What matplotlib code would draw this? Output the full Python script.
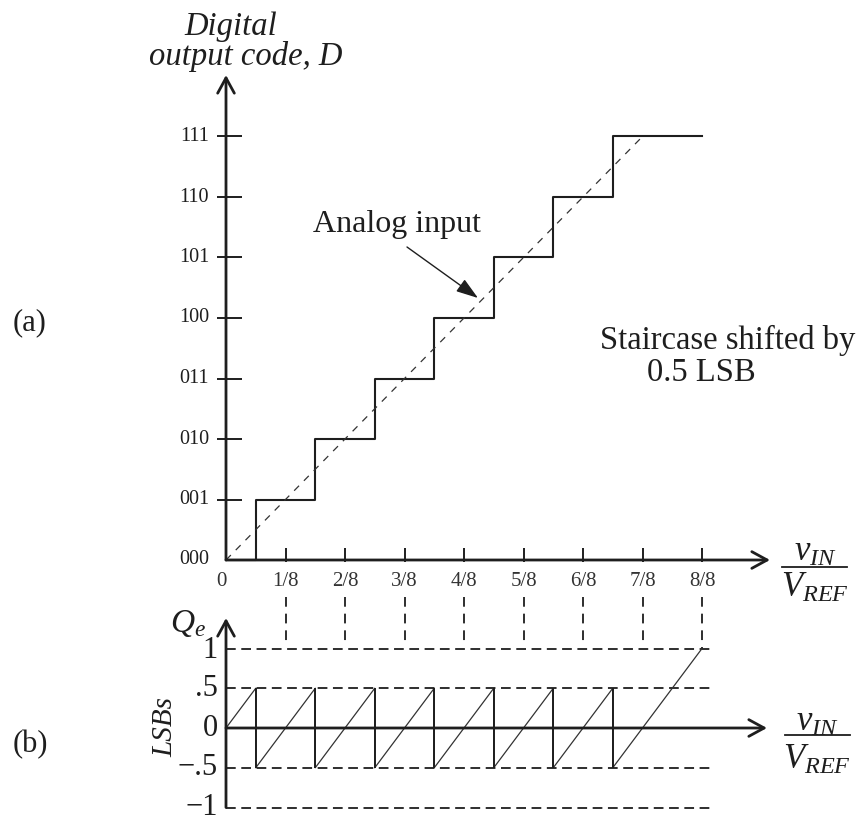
import matplotlib
matplotlib.use("Agg")
import matplotlib.pyplot as plt

plt.rcParams['font.family'] = ['Liberation Serif', 'DejaVu Serif']
plt.rcParams['mathtext.fontset'] = 'custom'
plt.rcParams['mathtext.it'] = 'Liberation Serif:italic'
plt.rcParams['mathtext.rm'] = 'Liberation Serif'
plt.rcParams['lines.scale_dashes'] = False

# ---------------- data ----------------
codes = [0, 1, 2, 3, 4, 5, 6, 7]
code_labels = ['000', '001', '010', '011', '100', '101', '110', '111']
transitions = [1/16, 3/16, 5/16, 7/16, 9/16, 11/16, 13/16]
stair_end = 1.0
ideal_x = [0.0, 7/8]
ideal_y = [0, 7]
xtick_pos = [0, 1/8, 2/8, 3/8, 4/8, 5/8, 6/8, 7/8, 8/8]
xtick_labels = ['0', '1/8', '2/8', '3/8', '4/8', '5/8', '6/8', '7/8', '8/8']
qe_x = [0, 1/16, 1/16, 3/16, 3/16, 5/16, 5/16, 7/16, 7/16,
        9/16, 9/16, 11/16, 11/16, 13/16, 13/16, 1.0]
qe_y = [0, 0.5, -0.5, 0.5, -0.5, 0.5, -0.5, 0.5, -0.5,
        0.5, -0.5, 0.5, -0.5, 0.5, -0.5, 1.0]
qe_levels = [1, 0.5, -0.5, -1]
qe_tick_vals = [1, 0.5, 0, -0.5, -1]
qe_tick_labels = ['1', '.5', '0', '\u2212.5', '\u22121']

# ---------------- layout helpers (pixel -> data) ----------------
W, H = 860, 824
X0, XS = 226, 476.0        # x=0 pixel, pixels per unit
Y0A, YSA = 560, 60.5       # top chart: code 0 pixel, pixels per code
Y0B, YSB = 728, 79.5       # bottom chart: Qe 0 pixel, pixels per LSB

def X(px):
    return (px - X0) / XS

def YA(py):
    return (Y0A - py) / YSA

def YB(py):
    return (Y0B - py) / YSB

INK = '#1e1e1e'

fig = plt.figure(figsize=(W / 100, H / 100), dpi=100)
ax1 = fig.add_axes([0, 0, 1, 1])
ax1.set_xlim(X(0), X(W))
ax1.set_ylim(YA(H), YA(0))
ax1.axis('off')
ax2 = fig.add_axes([0, 0, 1, 1])
ax2.patch.set_alpha(0)
ax2.set_xlim(X(0), X(W))
ax2.set_ylim(YB(H), YB(0))
ax2.axis('off')

arrow_kw = dict(arrowstyle='->,head_length=0.55,head_width=0.3', lw=2.0,
                color=INK, mutation_scale=20, shrinkA=0, shrinkB=0)

# ---------------- top chart (a) ----------------
ax1.annotate('', xy=(0, YA(75)), xytext=(0, 0), arrowprops=arrow_kw)
ax1.annotate('', xy=(X(770), 0), xytext=(0, 0), arrowprops=arrow_kw)

ax1.hlines(codes[1:], X(217), X(242), color=INK, lw=1.4)
for c, lab in zip(codes, code_labels):
    ax1.text(X(209), c, lab, ha='right', va='center', fontsize=14.5, color=INK)

ax1.vlines(xtick_pos[1:], YA(562), YA(548), color=INK, lw=1.4)
for xp, lab in zip(xtick_pos, xtick_labels):
    xx = X(221) if xp == 0 else xp
    ax1.text(xx, YA(582), lab, ha='center', va='center', fontsize=15, color='#333333')

ax1.vlines(xtick_pos[1:-1], YA(597), YA(642), color=INK, lw=1.3,
           linestyles=[(0, (7, 5))])
ax1.vlines(xtick_pos[-1:], YA(597), YA(649), color=INK, lw=1.3,
           linestyles=[(0, (7, 5))])

ax1.step([0] + transitions + [stair_end], codes + [codes[-1]], where='post',
         color=INK, lw=1.5)
ax1.plot(ideal_x, ideal_y, color='#333333', lw=0.9, dashes=(5, 5))

ax1.text(X(397), YA(232), 'Analog input', ha='center', va='baseline',
         fontsize=23, color=INK)
ax1.annotate('', xy=(X(478), YA(298)), xytext=(X(407), YA(247)),
             arrowprops=dict(arrowstyle='-|>,head_length=0.9,head_width=0.3',
                             lw=1.0, color=INK, mutation_scale=15,
                             shrinkA=0, shrinkB=0))
ax1.text(X(600), YA(349), 'Staircase shifted by', ha='left', va='baseline',
         fontsize=23.5, color=INK)
ax1.text(X(647), YA(381), '0.5 LSB', ha='left', va='baseline',
         fontsize=23.5, color=INK)

ax1.text(X(231), YA(35), 'Digital', ha='center', va='baseline',
         fontsize=23.5, style='italic', color=INK)
ax1.text(X(342), YA(65), 'output code, D', ha='right', va='baseline',
         fontsize=23.5, style='italic', color=INK)

ax1.text(X(815), YA(552), r'$v_{IN}$', ha='center', va='center', fontsize=25, color=INK)
ax1.plot([X(782), X(847)], [YA(567), YA(567)], color=INK, lw=1.3)
ax1.text(X(815), YA(588), r'$V_{REF}$', ha='center', va='center', fontsize=25, color=INK)

ax1.text(X(30), YA(323), '(a)', ha='center', va='center', fontsize=22, color=INK)

# ---------------- bottom chart (b) ----------------
ax2.annotate('', xy=(0, YB(618)), xytext=(0, -1), arrowprops=arrow_kw)
ax2.annotate('', xy=(X(767), 0), xytext=(0, 0), arrowprops=arrow_kw)

ax2.hlines(qe_levels, 0, X(710), color=INK, lw=1.3, linestyles=[(0, (7, 4))])
ax2.plot(qe_x, qe_y, color='#333333', lw=0.9)
ax2.vlines(transitions, -0.5, 0.5, color=INK, lw=1.4)

for v, lab in zip(qe_tick_vals, qe_tick_labels):
    yy = YB(651) if v == 1 else v
    ax2.text(X(218), yy, lab, ha='right', va='center', fontsize=22, color=INK)

ax2.text(X(170), YB(632), r'$Q_e$', ha='left', va='baseline', fontsize=24, color=INK)
ax2.text(X(165), YB(727), 'LSBs', ha='center', va='center', fontsize=21,
         style='italic', rotation=90, color=INK)

ax2.text(X(817), YB(722), r'$v_{IN}$', ha='center', va='center', fontsize=25, color=INK)
ax2.plot([X(785), X(850)], [YB(735), YB(735)], color=INK, lw=1.3)
ax2.text(X(817), YB(760), r'$V_{REF}$', ha='center', va='center', fontsize=25, color=INK)

ax2.text(X(30), YB(745), '(b)', ha='center', va='center', fontsize=22, color=INK)

fig.savefig('out.png', dpi=100, facecolor='white')
